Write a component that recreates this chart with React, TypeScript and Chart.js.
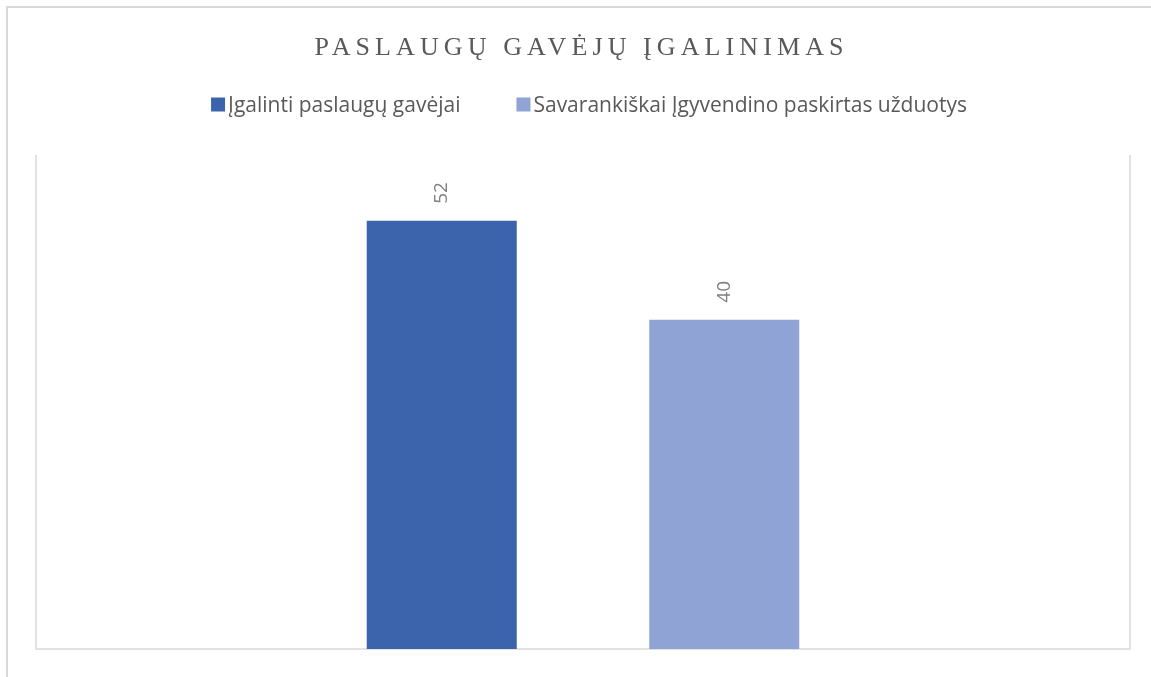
import React, { useEffect, useRef } from "react";
import { Chart, registerables } from "chart.js";

Chart.register(...registerables);

const TITLE = "PASLAUGŲ GAVĖJŲ ĮGALINIMAS";
const CATEGORIES = [""];
const SERIES_NAMES = ["Įgalinti paslaugų gavėjai", "Savarankiškai Įgyvendino paskirtas užduotys"];
const SERIES_1 = [52];
const SERIES_2 = [40];
const COLORS = ["#3C64AC", "#8FA3D4"];
const Y_MIN = 0;
const Y_MAX = 60;

const decorPlugin = {
  id: "decor",
  beforeDatasetsDraw(chart: any) {
    const { ctx, chartArea: a } = chart;
    ctx.save();
    ctx.strokeStyle = "#d9d9d9";
    ctx.lineWidth = 1.5;
    ctx.beginPath();
    ctx.moveTo(a.left, a.top);
    ctx.lineTo(a.left, a.bottom);
    ctx.lineTo(a.right, a.bottom);
    ctx.lineTo(a.right, a.top);
    ctx.stroke();
    ctx.restore();
  },
  afterDatasetsDraw(chart: any) {
    const { ctx } = chart;
    ctx.save();
    ctx.fillStyle = "#7f7f7f";
    ctx.font = '19px "Open Sans"';
    ctx.textAlign = "left";
    ctx.textBaseline = "middle";
    chart.data.datasets.forEach((ds: any, di: number) => {
      const meta = chart.getDatasetMeta(di);
      meta.data.forEach((bar: any, i: number) => {
        ctx.save();
        ctx.translate(bar.x, bar.y - 17);
        ctx.rotate(-Math.PI / 2);
        ctx.fillText(String(ds.data[i]), 0, 0);
        ctx.restore();
      });
    });
    ctx.restore();
  },
  afterDraw(chart: any) {
    const { ctx } = chart;
    // Title
    ctx.save();
    ctx.fillStyle = "#595959";
    ctx.font = '26px "Liberation Serif"';
    const ls = 5.1;
    (ctx as any).letterSpacing = ls + "px";
    ctx.textAlign = "left";
    ctx.textBaseline = "alphabetic";
    const tw = ctx.measureText(TITLE).width - ls;
    ctx.fillText(TITLE, 579 - tw / 2, 54.5);
    ctx.restore();

    // Legend
    ctx.save();
    ctx.font = '21px "Open Sans"';
    ctx.textAlign = "left";
    ctx.textBaseline = "alphabetic";
    const B = 14;
    const G = 3;
    const IG = 56;
    const widths = SERIES_NAMES.map((t) => ctx.measureText(t).width);
    const total = widths.reduce((s, w) => s + w + B + G, 0) + IG * (SERIES_NAMES.length - 1);
    let x = 589 - total / 2;
    const baseline = 111.5;
    SERIES_NAMES.forEach((name, i) => {
      ctx.fillStyle = COLORS[i];
      ctx.fillRect(x, baseline - B, B, B);
      ctx.fillStyle = "#595959";
      ctx.fillText(name, x + B + G, baseline);
      x += B + G + widths[i] + IG;
    });
    ctx.restore();
  },
};

export default function App() {
  const canvasRef = useRef<HTMLCanvasElement | null>(null);

  useEffect(() => {
    const canvas = canvasRef.current;
    if (!canvas) return;
    const chart = new Chart(canvas, {
      type: "bar",
      data: {
        labels: CATEGORIES,
        datasets: [
          {
            label: SERIES_NAMES[0],
            data: SERIES_1,
            backgroundColor: COLORS[0],
            categoryPercentage: 0.5165,
            barPercentage: 0.531,
          },
          {
            label: SERIES_NAMES[1],
            data: SERIES_2,
            backgroundColor: COLORS[1],
            categoryPercentage: 0.5165,
            barPercentage: 0.531,
          },
        ],
      },
      options: {
        responsive: false,
        animation: false,
        layout: { padding: { left: 36, right: 21, top: 155, bottom: 28 } },
        plugins: {
          legend: { display: false },
          title: { display: false },
          tooltip: { enabled: false },
        },
        scales: {
          x: { display: false, offset: true },
          y: { display: false, min: Y_MIN, max: Y_MAX },
        },
      },
      plugins: [decorPlugin],
    });
    return () => chart.destroy();
  }, []);

  return (
    <div
      style={{
        position: "fixed",
        left: 0,
        top: 0,
        width: 1151,
        height: 677,
        overflow: "hidden",
        background: "#ffffff",
      }}
    >
      <div
        style={{
          position: "absolute",
          left: 6,
          top: 6,
          width: 1200,
          height: 800,
          border: "2px solid #d9d9d9",
          boxSizing: "border-box",
        }}
      />
      <canvas
        ref={canvasRef}
        width={1151}
        height={677}
        style={{ position: "absolute", left: 0, top: 0, display: "block" }}
      />
    </div>
  );
}
